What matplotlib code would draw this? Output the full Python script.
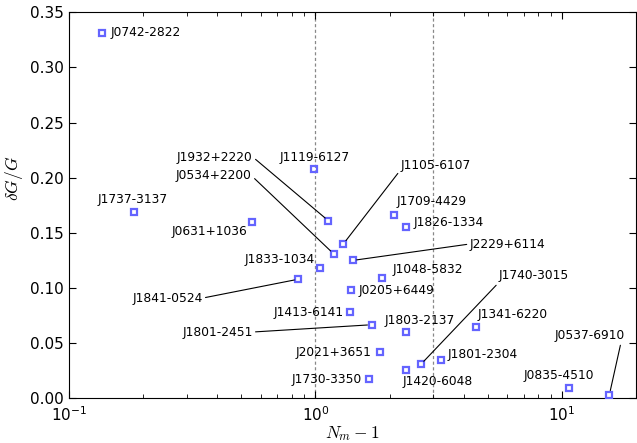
import matplotlib
matplotlib.use("Agg")
import matplotlib.pyplot as plt

plt.rcParams["mathtext.fontset"] = "cm"

# pulsar names, N_m - 1 and dG/G
names = ["J0742-2822", "J1119-6127", "J1932+2220", "J0534+2200", "J1737-3137",
         "J0631+1036", "J1105-6107", "J1709-4429", "J1826-1334", "J2229+6114",
         "J1833-1034", "J1841-0524", "J1048-5832", "J0205+6449", "J1413-6141",
         "J1801-2451", "J1803-2137", "J2021+3651", "J1730-3350", "J1420-6048",
         "J1740-3015", "J1801-2304", "J1341-6220", "J0835-4510", "J0537-6910"]
nm1 = [0.136, 0.99, 1.129, 1.186, 0.183,
       0.553, 1.299, 2.08, 2.33, 1.416,
       1.041, 0.853, 1.862, 1.39, 1.386,
       1.69, 2.34, 1.83, 1.65, 2.33,
       2.68, 3.22, 4.47, 10.66, 15.6]
dGG = [0.331, 0.208, 0.161, 0.131, 0.169,
       0.160, 0.140, 0.1665, 0.155, 0.125,
       0.118, 0.108, 0.109, 0.0985, 0.078,
       0.0667, 0.0601, 0.0417, 0.0175, 0.026,
       0.0308, 0.0344, 0.0644, 0.0096, 0.0033]

# label placement (layout only): text x, text y, alignment, line start (relpos)
label_x = [0.148, 0.993, 0.557, 0.552, 0.1817,
           0.531, 2.217, 2.136, 2.502, 4.22,
           0.993, 0.349, 2.057, 1.498, 1.302,
           0.557, 2.648, 1.691, 1.54, 2.26,
           5.55, 3.44, 4.55, 9.68, 12.94]
label_y = [0.332, 0.2188, 0.2188, 0.2016, 0.1807,
           0.1508, 0.2107, 0.178, 0.1598, 0.1399,
           0.1263, 0.0909, 0.1172, 0.0973, 0.0782,
           0.0601, 0.0701, 0.0411, 0.0175, 0.0148,
           0.1109, 0.0393, 0.0764, 0.0203, 0.0565]
label_ha = ["left", "center", "right", "right", "center",
            "right", "left", "left", "left", "left",
            "right", "right", "left", "left", "right",
            "right", "center", "right", "right", "left",
            "left", "left", "left", "center", "center"]
relpos = {"J1932+2220": (1, 0.5), "J0534+2200": (1, 0.5), "J1105-6107": (0, 0.2),
          "J2229+6114": (0, 0.5), "J1841-0524": (1, 0.5), "J1801-2451": (1, 0.5),
          "J1740-3015": (0, 0.0), "J0537-6910": (0.95, 0.0)}

fig = plt.figure(figsize=(6.37, 4.43), dpi=100)
ax = fig.add_axes([0.1083, 0.1009, 0.8901, 0.8713])

ax.axvline(1, color="#888888", ls=(0, (2.5, 2)), lw=0.9, zorder=1)
ax.axvline(3, color="#888888", ls=(0, (2.5, 2)), lw=0.9, zorder=1)

ax.plot(nm1, dGG, "s", ms=4.3, mfc="none", mec="#6464ff", mew=1.6, zorder=3)

for i, n in enumerate(names):
    if n in relpos:
        ax.annotate(n, xy=(nm1[i], dGG[i]), xytext=(label_x[i], label_y[i]),
                    ha=label_ha[i], va="center", fontsize=8.8,
                    arrowprops=dict(arrowstyle="-", color="black", lw=0.8,
                                    relpos=relpos[n], shrinkA=0, shrinkB=3))
    else:
        ax.text(label_x[i], label_y[i], n, ha=label_ha[i], va="center", fontsize=8.8)

ax.set_xscale("log")
ax.set_xlim(0.1, 20)
ax.set_ylim(0, 0.35)
ax.set_yticks([0, 0.05, 0.10, 0.15, 0.20, 0.25, 0.30, 0.35])
ax.set_yticklabels(["0.00", "0.05", "0.10", "0.15", "0.20", "0.25", "0.30", "0.35"])

ax.tick_params(which="both", direction="in", top=True, right=True, labelsize=11)
ax.tick_params(which="major", length=5, width=0.8)
ax.tick_params(which="minor", length=2.8, width=0.6)
ax.tick_params(axis="x", pad=5)

ax.set_xlabel(r"$N_m-1$", fontsize=12.5, labelpad=0)
ax.set_ylabel(r"$\delta G/G$", fontsize=12.5)
ax.yaxis.set_label_coords(-0.078, 0.57)

fig.savefig("out.png", dpi=100)
